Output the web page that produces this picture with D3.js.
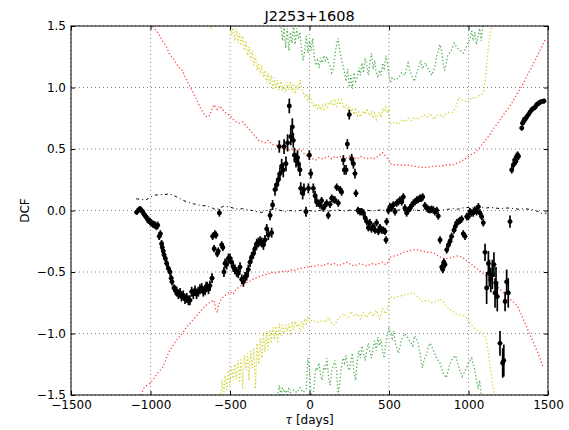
<!DOCTYPE html>
<html>
<head>
<meta charset="utf-8">
<script src="https://cdn.jsdelivr.net/npm/d3@7"></script>
<style>
  body { margin: 0; background: #fff; }
  svg { font-family: "DejaVu Sans", sans-serif; }
</style>
</head>
<body>
<div id="chart"></div>
<script>
// Chart size and margins (plot box 71..548 x 26..395)
var svgWidth = 569;
var svgHeight = 430;
var margin = { top: 26, right: 21, bottom: 35, left: 71 };
var width = svgWidth - margin.left - margin.right;
var height = svgHeight - margin.top - margin.bottom;

// tick values
var xTicks = [-1500, -1000, -500, 0, 500, 1000, 1500];
var yTicks = [-1.5, -1.0, -0.5, 0.0, 0.5, 1.0, 1.5];

// DCF points: [tau, dcf, error]
var dcfPoints = [
  [-1087,-0.015,0.02],[-1075,0.005,0.02],[-1066,0.015,0.02],[-1058,0.0,0.02],[-1049,-0.01,0.02],
  [-1041,-0.03,0.02],[-1035,-0.04,0.02],[-1027,-0.055,0.02],[-1020,-0.07,0.03],[-1012,-0.08,0.03],
  [-1003,-0.09,0.03],[-995,-0.1,0.03],[-986,-0.11,0.03],[-978,-0.115,0.03],[-970,-0.12,0.03],
  [-962,-0.13,0.03],[-955,-0.12,0.03],[-945,-0.21,0.03],[-938,-0.19,0.03],[-930,-0.27,0.03],
  [-926,-0.30,0.03],[-920,-0.33,0.03],[-915,-0.36,0.03],[-907,-0.39,0.03],[-898,-0.43,0.03],
  [-888,-0.47,0.03],[-877,-0.50,0.03],[-870,-0.55,0.03],[-865,-0.58,0.03],[-852,-0.63,0.03],
  [-843,-0.65,0.04],[-835,-0.66,0.04],[-825,-0.68,0.04],[-814,-0.67,0.04],[-805,-0.70,0.04],
  [-794,-0.69,0.04],[-783,-0.72,0.04],[-772,-0.71,0.04],[-762,-0.73,0.04],[-752,-0.73,0.04],
  [-741,-0.66,0.04],[-731,-0.68,0.04],[-720,-0.65,0.04],[-710,-0.68,0.04],[-699,-0.66,0.04],
  [-689,-0.64,0.04],[-678,-0.63,0.04],[-668,-0.66,0.04],[-657,-0.65,0.04],[-650,-0.62,0.04],
  [-643,-0.62,0.04],[-635,-0.64,0.04],[-626,-0.61,0.04],[-613,-0.55,0.04],
  [-609,-0.21,0.03],[-600,-0.31,0.03],[-595,-0.19,0.03],[-588,-0.2,0.03],[-580,-0.35,0.03],
  [-574,-0.33,0.03],[-567,-0.02,0.03],[-552,-0.28,0.03],[-545,-0.3,0.03],[-538,-0.5,0.04],
  [-531,-0.43,0.04],[-521,-0.44,0.04],[-510,-0.39,0.04],[-500,-0.39,0.04],[-490,-0.42,0.04],
  [-479,-0.46,0.04],[-469,-0.48,0.04],[-458,-0.5,0.04],[-448,-0.51,0.04],[-437,-0.46,0.04],
  [-426,-0.56,0.04],[-416,-0.58,0.04],[-405,-0.54,0.04],[-395,-0.53,0.04],[-385,-0.48,0.04],
  [-374,-0.42,0.04],[-364,-0.38,0.04],[-353,-0.35,0.04],[-343,-0.31,0.04],[-332,-0.27,0.04],
  [-322,-0.26,0.04],[-311,-0.25,0.04],[-300,-0.26,0.04],[-290,-0.28,0.04],[-280,-0.24,0.04],
  [-269,-0.15,0.04],[-259,-0.2,0.04],[-248,-0.04,0.04],[-238,-0.18,0.04],[-232,0.045,0.04],
  [-217,0.17,0.05],[-206,0.21,0.05],[-196,0.25,0.05],[-190,0.52,0.05],[-186,0.3,0.05],
  [-175,0.36,0.06],[-165,0.33,0.06],[-160,0.52,0.06],[-148,0.38,0.06],[-138,0.55,0.07],
  [-127,0.85,0.06],[-118,0.6,0.07],[-108,0.68,0.07],[-102,0.57,0.06],[-95,0.45,0.06],
  [-85,0.41,0.06],[-75,0.43,0.06],[-70,0.38,0.06],[-60,0.33,0.05],[-55,0.18,0.05],
  [-43,0.14,0.05],[-35,0.17,0.05],[-22,-0.01,0.04],[-7,0.18,0.04],[-1,0.45,0.04],
  [8,0.3,0.04],[24,0.18,0.04],[35,0.12,0.04],[45,0.07,0.04],[55,0.06,0.03],
  [66,0.045,0.03],[76,0.08,0.03],[87,0.02,0.03],[97,0.04,0.03],[108,0.06,0.03],
  [118,-0.04,0.03],[129,0.05,0.03],[140,0.1,0.03],[150,0.09,0.03],[160,0.085,0.03],
  [171,0.19,0.03],[181,0.06,0.03],[192,0.17,0.03],[202,0.15,0.03],[213,0.41,0.04],
  [219,0.33,0.04],[230,0.33,0.04],[238,0.54,0.04],[250,0.78,0.04],[265,0.42,0.04],
  [276,0.38,0.04],[286,0.3,0.04],[292,0.14,0.03],[305,0.0,0.03],[318,-0.01,0.03],
  [329,-0.01,0.03],[339,-0.02,0.03],[350,-0.06,0.03],[360,-0.09,0.03],[370,-0.14,0.03],
  [380,-0.1,0.03],[390,-0.15,0.03],[401,-0.13,0.03],[412,-0.16,0.03],[422,-0.1,0.03],
  [433,-0.17,0.03],[443,-0.14,0.03],[454,-0.16,0.03],[464,-0.16,0.03],[475,-0.17,0.03],
  [481,-0.24,0.03],[485,-0.09,0.03],[496,0.0,0.03],[506,0.03,0.03],[517,0.02,0.03],
  [527,0.045,0.03],[538,-0.01,0.03],[548,0.06,0.03],[559,0.07,0.03],[569,0.085,0.03],
  [580,0.07,0.03],[590,0.11,0.03],[600,0.02,0.03],[611,-0.02,0.03],[621,0.0,0.03],
  [632,0.02,0.03],[642,0.04,0.03],[653,0.06,0.03],[663,0.07,0.03],[674,0.085,0.03],
  [684,0.09,0.03],[695,0.1,0.03],[705,0.1,0.03],[712,0.11,0.03],[726,0.04,0.03],
  [737,0.02,0.03],[747,0.01,0.03],[758,0.005,0.03],[768,0.01,0.03],[779,0.005,0.03],
  [789,-0.01,0.03],[800,0.0,0.03],[810,-0.045,0.03],[821,-0.24,0.03],[832,-0.46,0.03],
  [838,-0.48,0.03],[845,-0.42,0.03],[852,-0.44,0.03],[863,-0.32,0.03],[874,-0.28,0.03],
  [884,-0.25,0.03],[894,-0.21,0.03],[909,-0.16,0.03],[917,-0.13,0.03],[926,-0.1,0.03],
  [937,-0.09,0.03],[947,-0.08,0.03],[957,-0.07,0.03],[967,-0.19,0.03],[978,-0.21,0.03],
  [989,-0.05,0.03],[999,-0.05,0.03],[1009,-0.01,0.03],[1020,-0.02,0.03],[1030,-0.02,0.03],
  [1041,0.005,0.03],[1051,-0.01,0.03],[1062,0.03,0.03],[1072,-0.02,0.03],[1083,-0.05,0.03],
  [1093,-0.1,0.03],[1104,-0.34,0.07],[1114,-0.63,0.13],[1125,-0.43,0.1],[1131,-0.51,0.11],
  [1140,-0.565,0.1],[1150,-0.52,0.12],[1160,-0.44,0.1],[1167,-0.67,0.12],[1173,-0.59,0.13],
  [1181,-0.70,0.12],[1198,-1.08,0.1],[1215,-1.24,0.12],[1222,-1.22,0.13],[1230,-0.74,0.08],
  [1240,-0.58,0.1],[1250,-0.67,0.12],[1261,-0.09,0.05],
  [1272,0.33,0.03],[1282,0.37,0.03],[1290,0.41,0.03],[1298,0.4,0.03],[1303,0.44,0.03],
  [1309,0.45,0.03],[1314,0.44,0.03],[1335,0.67,0.02],[1340,0.71,0.02],[1345,0.72,0.02],
  [1351,0.74,0.02],[1356,0.74,0.02],[1366,0.76,0.02],[1377,0.78,0.02],[1387,0.8,0.02],
  [1398,0.82,0.02],[1408,0.83,0.02],[1419,0.84,0.02],[1429,0.86,0.02],[1440,0.87,0.02],
  [1450,0.88,0.02],[1461,0.885,0.02],[1475,0.89,0.02]
];

// mean of simulated DCFs (dash-dot, near zero)
var simMean = [
  [-1090,0.095],[-1060,0.09],[-1030,0.085],[-1000,0.11],[-970,0.125],[-940,0.13],[-910,0.13],
  [-880,0.135],[-850,0.12],[-820,0.1],[-790,0.08],[-760,0.065],[-730,0.055],[-700,0.045],
  [-670,0.04],[-640,0.035],[-610,0.02],[-590,0.005],[-570,0.015],[-540,0.035],[-510,0.03],
  [-480,0.02],[-450,0.01],[-420,0.015],[-390,0.005],[-360,0.0],[-330,-0.01],[-300,-0.015],
  [-270,0.0],[-240,0.01],[-210,0.015],[-180,0.0],[-150,-0.01],[-120,0.0],[-90,-0.005],
  [-60,0.0],[-30,0.005],[0,0.0],[30,-0.01],[60,0.0],[90,0.005],[120,-0.005],[150,0.0],
  [180,0.005],[210,-0.005],[240,0.0],[270,0.005],[300,-0.005],[330,0.0],[360,0.005],
  [390,-0.005],[420,0.0],[450,0.005],[480,0.0],[510,-0.005],[540,0.0],[570,0.005],[600,0.0],
  [630,-0.005],[660,0.005],[690,0.0],[720,0.005],[750,0.0],[780,0.005],[810,0.0],[840,0.005],
  [870,0.01],[900,0.015],[930,0.01],[960,0.02],[990,0.025],[1020,0.02],[1050,0.03],
  [1080,0.025],[1110,0.02],[1140,0.025],[1170,0.02],[1200,0.015],[1230,0.02],[1260,0.02],
  [1290,0.015],[1320,0.01],[1350,0.015],[1380,0.01],[1410,0.005],[1440,-0.01],[1470,-0.03],
  [1490,-0.02]
];

// 1 sigma significance levels (red)
var redUpper = [
  [-1000,1.52],[-975,1.48],[-950,1.44],[-925,1.38],[-900,1.33],[-880,1.27],[-860,1.24],
  [-840,1.2],[-820,1.16],[-800,1.14],[-780,1.08],[-760,1.03],[-740,0.98],[-720,0.93],
  [-700,0.87],[-680,0.82],[-660,0.78],[-645,0.76],[-630,0.77],[-615,0.82],[-600,0.86],
  [-590,0.84],[-580,0.82],[-565,0.85],[-550,0.83],[-535,0.8],[-520,0.79],[-500,0.77],
  [-480,0.74],[-460,0.72],[-440,0.71],[-420,0.72],[-400,0.69],[-380,0.66],[-360,0.63],
  [-340,0.6],[-320,0.57],[-300,0.56],[-280,0.55],[-260,0.57],[-240,0.54],[-220,0.53],
  [-200,0.53],[-180,0.51],[-160,0.5],[-140,0.5],[-120,0.49],[-100,0.5],[-80,0.49],[-60,0.5],
  [-40,0.47],[-20,0.45],[0,0.43],[20,0.42],[40,0.41],[60,0.43],[80,0.42],[100,0.43],
  [120,0.44],[140,0.42],[160,0.44],[180,0.43],[200,0.44],[220,0.42],[240,0.43],[260,0.45],
  [280,0.43],[300,0.42],[320,0.44],[340,0.43],[360,0.42],[380,0.43],[400,0.42],[420,0.43],
  [440,0.45],[460,0.47],[480,0.44],[500,0.41],[510,0.38],[540,0.37],[580,0.37],[620,0.37],
  [660,0.36],[700,0.35],[740,0.35],[780,0.36],[820,0.36],[860,0.37],[900,0.37],[940,0.39],
  [980,0.42],[1010,0.45],[1040,0.47],[1070,0.51],[1100,0.56],[1130,0.61],[1160,0.67],
  [1190,0.72],[1220,0.78],[1250,0.83],[1280,0.89],[1310,0.96],[1340,1.02],[1370,1.1],
  [1400,1.17],[1430,1.25],[1460,1.33],[1485,1.4]
];
var redLower = [
  [-1060,-1.5],[-1040,-1.44],[-1020,-1.42],[-1000,-1.40],[-980,-1.37],[-960,-1.33],
  [-940,-1.30],[-920,-1.27],[-900,-1.2],[-880,-1.14],[-860,-1.1],[-840,-1.06],[-820,-1.03],
  [-800,-1.0],[-780,-0.96],[-760,-0.93],[-740,-0.9],[-720,-0.87],[-700,-0.84],[-680,-0.81],
  [-660,-0.78],[-640,-0.76],[-620,-0.74],[-600,-0.73],[-590,-0.8],[-580,-0.83],[-570,-0.76],
  [-555,-0.72],[-540,-0.7],[-520,-0.68],[-500,-0.66],[-480,-0.68],[-460,-0.64],[-440,-0.62],
  [-420,-0.6],[-400,-0.59],[-380,-0.58],[-360,-0.56],[-340,-0.55],[-320,-0.54],[-300,-0.53],
  [-280,-0.52],[-260,-0.52],[-240,-0.5],[-220,-0.51],[-200,-0.5],[-180,-0.5],[-160,-0.49],
  [-140,-0.5],[-120,-0.48],[-100,-0.49],[-80,-0.48],[-60,-0.47],[-40,-0.47],[-20,-0.46],
  [0,-0.46],[20,-0.45],[40,-0.45],[60,-0.44],[80,-0.45],[100,-0.44],[120,-0.43],[140,-0.44],
  [160,-0.43],[180,-0.45],[200,-0.44],[220,-0.43],[240,-0.42],[260,-0.44],[280,-0.45],
  [300,-0.44],[320,-0.43],[340,-0.44],[360,-0.45],[380,-0.44],[400,-0.43],[420,-0.44],
  [440,-0.43],[460,-0.42],[480,-0.44],[495,-0.42],[505,-0.38],[530,-0.37],[560,-0.36],
  [590,-0.34],[620,-0.33],[650,-0.32],[680,-0.32],[710,-0.33],[740,-0.34],[770,-0.34],
  [790,-0.35],[810,-0.37],[840,-0.39],[870,-0.39],[900,-0.38],[930,-0.37],[960,-0.38],
  [990,-0.41],[1010,-0.43],[1040,-0.46],[1070,-0.49],[1100,-0.52],[1130,-0.55],[1160,-0.59],
  [1190,-0.63],[1220,-0.67],[1250,-0.71],[1280,-0.74],[1310,-0.78],[1330,-0.84],[1350,-0.9],
  [1370,-0.96],[1390,-1.02],[1410,-1.08],[1430,-1.14],[1450,-1.2],[1470,-1.28]
];

// 2 sigma levels (yellow)
var yellowUpper = [
  [-630,1.52],[-620,1.49],[-610,1.55],[-520,1.6],[-510,1.49],[-500,1.55],[-490,1.42],
  [-480,1.5],[-470,1.38],[-460,1.48],[-450,1.36],[-440,1.44],[-430,1.34],[-420,1.42],
  [-410,1.3],[-400,1.38],[-390,1.26],[-380,1.33],[-370,1.22],[-360,1.3],[-350,1.18],
  [-340,1.26],[-330,1.14],[-320,1.2],[-310,1.1],[-300,1.18],[-290,1.08],[-280,1.14],
  [-270,1.04],[-260,1.12],[-250,1.02],[-240,1.1],[-230,0.98],[-220,1.08],[-210,1.0],
  [-200,1.06],[-190,0.98],[-180,1.05],[-170,0.97],[-160,1.02],[-150,0.96],[-140,1.04],
  [-130,0.98],[-120,1.05],[-110,0.96],[-100,1.03],[-90,0.95],[-80,1.02],[-70,0.98],
  [-60,1.06],[-50,1.0],[-40,0.96],[-30,0.92],[-20,0.95],[-10,0.9],[0,0.94],[10,0.9],
  [20,0.86],[30,0.84],[40,0.87],[50,0.83],[60,0.86],[70,0.82],[80,0.85],[90,0.81],
  [100,0.86],[110,0.84],[120,0.88],[130,0.86],[140,0.9],[150,0.85],[160,0.89],[170,0.84],
  [180,0.9],[190,0.86],[200,0.9],[210,0.85],[220,0.83],[230,0.86],[240,0.82],[250,0.84],
  [260,0.8],[270,0.83],[280,0.78],[290,0.82],[300,0.77],[310,0.8],[320,0.76],[330,0.79],
  [340,0.81],[350,0.78],[360,0.83],[370,0.8],[380,0.77],[390,0.8],[400,0.75],[410,0.79],
  [420,0.74],[430,0.78],[440,0.8],[450,0.76],[460,0.83],[470,0.8],[480,0.84],[490,0.79],
  [500,0.83],[505,0.7],[520,0.71],[540,0.72],[560,0.7],[580,0.74],[600,0.72],[620,0.75],
  [640,0.73],[660,0.76],[680,0.74],[700,0.76],[720,0.78],[740,0.76],[760,0.79],[780,0.74],
  [800,0.77],[820,0.78],[840,0.76],[860,0.79],[880,0.8],[900,0.8],[920,0.84],[940,0.92],
  [960,0.9],[980,0.89],[1000,0.88],[1020,0.92],[1040,0.91],[1060,0.93],[1080,0.94],
  [1095,0.96],[1105,1.05],[1115,1.2],[1125,1.33],[1135,1.42],[1145,1.5],[1155,1.55]
];
var yellowLower = [
  [-560,-1.55],[-550,-1.38],[-540,-1.5],[-530,-1.34],[-520,-1.46],[-510,-1.3],[-500,-1.42],
  [-490,-1.27],[-480,-1.38],[-470,-1.25],[-460,-1.37],[-450,-1.22],[-440,-1.4],[-430,-1.2],
  [-420,-1.45],[-410,-1.18],[-400,-1.3],[-390,-1.16],[-380,-1.38],[-370,-1.14],[-360,-1.28],
  [-350,-1.12],[-340,-1.45],[-330,-1.08],[-320,-1.25],[-310,-1.04],[-300,-1.2],[-290,-1.0],
  [-280,-1.15],[-270,-0.98],[-260,-1.13],[-250,-0.97],[-240,-1.08],[-230,-0.95],[-220,-1.05],
  [-210,-0.94],[-200,-1.08],[-190,-0.92],[-180,-1.02],[-170,-0.93],[-160,-1.0],[-150,-0.93],
  [-140,-0.98],[-130,-0.92],[-120,-1.02],[-110,-0.9],[-100,-0.97],[-90,-0.9],[-80,-0.95],
  [-70,-0.92],[-60,-0.99],[-50,-0.9],[-40,-0.95],[-30,-0.88],[-20,-0.92],[-10,-0.86],
  [0,-0.89],[20,-0.9],[40,-0.9],[60,-0.91],[80,-0.89],[100,-0.91],[120,-0.87],[140,-0.92],
  [160,-0.93],[180,-0.88],[200,-0.85],[220,-0.84],[240,-0.88],[260,-0.82],[280,-0.86],
  [300,-0.84],[320,-0.88],[340,-0.83],[360,-0.87],[380,-0.82],[400,-0.86],[420,-0.81],
  [440,-0.88],[460,-0.8],[480,-0.84],[495,-0.78],[505,-0.7],[530,-0.71],[560,-0.7],
  [590,-0.69],[620,-0.68],[650,-0.67],[680,-0.7],[710,-0.74],[740,-0.73],[770,-0.75],
  [800,-0.74],[820,-0.72],[840,-0.74],[860,-0.78],[880,-0.8],[900,-0.82],[920,-0.84],
  [950,-0.85],[980,-0.86],[1000,-0.9],[1030,-0.95],[1060,-0.98],[1090,-1.0],[1110,-1.04],
  [1120,-1.12],[1130,-1.2],[1140,-1.3],[1150,-1.4],[1160,-1.47],[1170,-1.55]
];

// 3 sigma levels (green)
var greenUpper = [
  [-200,1.6],[-180,1.5],[-170,1.38],[-160,1.5],[-150,1.32],[-140,1.48],[-130,1.3],
  [-120,1.45],[-110,1.36],[-100,1.52],[-90,1.35],[-80,1.48],[-70,1.4],[-60,1.45],[-50,1.3],
  [-40,1.22],[-30,1.3],[-20,1.42],[-10,1.28],[0,1.38],[10,1.3],[20,1.4],[30,1.25],[40,1.18],
  [50,1.22],[60,1.16],[70,1.24],[80,1.2],[90,1.26],[100,1.22],[110,1.25],[120,1.2],
  [130,1.17],[140,1.12],[150,1.15],[160,1.26],[170,1.35],[180,1.4],[190,1.3],[200,1.24],
  [210,1.18],[220,1.12],[230,1.05],[240,1.15],[250,1.0],[260,1.1],[270,0.99],[280,1.12],
  [290,1.05],[300,1.08],[310,1.16],[320,1.1],[330,1.2],[340,1.12],[350,1.24],[360,1.18],
  [370,1.1],[380,1.2],[390,1.28],[400,1.15],[410,1.22],[420,1.12],[430,1.08],[440,1.14],
  [450,1.1],[460,1.2],[470,1.14],[480,1.26],[490,1.2],[500,1.1],[510,1.04],[520,1.08],
  [540,1.06],[560,1.08],[580,1.12],[600,1.1],[620,1.2],[640,1.1],[660,1.05],[670,1.1],
  [690,1.18],[700,1.22],[710,1.15],[730,1.2],[750,1.14],[770,1.1],[790,1.18],[800,1.25],
  [820,1.35],[830,1.3],[840,1.2],[850,1.14],[860,1.2],[870,1.26],[890,1.3],[910,1.36],
  [930,1.32],[950,1.3],[970,1.28],[990,1.34],[1010,1.4],[1020,1.46],[1030,1.38],[1040,1.45],
  [1050,1.35],[1060,1.42],[1070,1.48],[1080,1.38],[1090,1.5],[1100,1.6]
];
var greenLower = [
  [-210,-1.6],[-200,-1.5],[-190,-1.42],[-180,-1.5],[-170,-1.44],[-160,-1.48],[-150,-1.46],
  [-140,-1.5],[-130,-1.45],[-120,-1.48],[-100,-1.46],[-80,-1.48],[-60,-1.44],[-40,-1.48],
  [-20,-1.45],[-10,-1.2],[0,-1.3],[10,-1.5],[20,-1.55],[30,-1.4],[40,-1.28],[50,-1.3],
  [60,-1.24],[70,-1.34],[80,-1.38],[90,-1.26],[100,-1.3],[110,-1.2],[120,-1.36],[130,-1.42],
  [140,-1.3],[150,-1.26],[160,-1.22],[170,-1.3],[180,-1.5],[190,-1.4],[200,-1.28],[210,-1.2],
  [220,-1.24],[230,-1.18],[240,-1.26],[250,-1.3],[260,-1.22],[270,-1.16],[280,-1.32],
  [290,-1.38],[300,-1.22],[310,-1.14],[320,-1.2],[330,-1.1],[340,-1.16],[350,-1.22],
  [360,-1.14],[370,-1.08],[380,-1.15],[390,-1.2],[400,-1.12],[410,-1.06],[420,-1.14],
  [430,-1.03],[440,-1.1],[450,-1.05],[460,-1.15],[470,-1.2],[480,-1.08],[490,-1.0],
  [500,-0.96],[510,-1.0],[520,-1.04],[530,-0.98],[540,-1.08],[550,-1.12],[560,-1.16],
  [570,-1.1],[580,-1.05],[600,-1.0],[620,-1.04],[640,-1.08],[650,-1.1],[660,-1.02],
  [680,-1.06],[700,-1.2],[710,-1.28],[720,-1.22],[740,-1.15],[750,-1.1],[760,-1.08],
  [780,-1.14],[800,-1.2],[820,-1.24],[840,-1.32],[860,-1.36],[880,-1.26],[900,-1.2],
  [920,-1.18],[940,-1.28],[960,-1.35],[980,-1.3],[1000,-1.24],[1020,-1.2],[1040,-1.3],
  [1060,-1.45],[1070,-1.38],[1080,-1.5],[1090,-1.6]
];

var svg = d3.select("#chart")
  .append("svg")
  .attr("width", svgWidth)
  .attr("height", svgHeight);

var chartGroup = svg.append("g")
  .attr("transform", `translate(${margin.left}, ${margin.top})`);

var xScale = d3.scaleLinear().domain([-1500, 1500]).range([0, width]);
var yScale = d3.scaleLinear().domain([-1.5, 1.5]).range([height, 0]);

chartGroup.append("clipPath").attr("id", "plotclip")
  .append("rect").attr("width", width).attr("height", height);

// grid
chartGroup.append("g").selectAll("line").data(xTicks).enter().append("line")
  .attr("x1", d => xScale(d)).attr("x2", d => xScale(d))
  .attr("y1", 0).attr("y2", height)
  .attr("stroke", "#666").attr("stroke-width", 0.8).attr("stroke-dasharray", "1,3");
chartGroup.append("g").selectAll("line").data(yTicks).enter().append("line")
  .attr("y1", d => yScale(d)).attr("y2", d => yScale(d))
  .attr("x1", 0).attr("x2", width)
  .attr("stroke", "#666").attr("stroke-width", 0.8).attr("stroke-dasharray", "1,3");

var plot = chartGroup.append("g").attr("clip-path", "url(#plotclip)");

var line = d3.line().x(d => xScale(d[0])).y(d => yScale(d[1]));

// significance curves, dotted
var curves = [
  { data: greenUpper, color: "#33a033" }, { data: greenLower, color: "#33a033" },
  { data: yellowUpper, color: "#cccc1a" }, { data: yellowLower, color: "#cccc1a" },
  { data: redUpper, color: "#ff2a2a" }, { data: redLower, color: "#ff2a2a" }
];
curves.forEach(function(c) {
  plot.append("path")
    .datum(c.data)
    .attr("d", line)
    .attr("fill", "none")
    .attr("stroke", c.color)
    .attr("stroke-width", 1.3)
    .attr("stroke-dasharray", "1.3,2.2")
    .attr("opacity", 0.85);
});

plot.append("path")
  .datum(simMean)
  .attr("d", line)
  .attr("fill", "none")
  .attr("stroke", "#000")
  .attr("stroke-width", 1)
  .attr("stroke-dasharray", "3,3,1,3");

// error bars
plot.append("g").selectAll("line").data(dcfPoints).enter().append("line")
  .attr("x1", d => xScale(d[0])).attr("x2", d => xScale(d[0]))
  .attr("y1", d => yScale(d[1] - d[2])).attr("y2", d => yScale(d[1] + d[2]))
  .attr("stroke", "#000").attr("stroke-width", 1.7);
plot.append("g").selectAll("line").data(dcfPoints).enter().append("line")
  .attr("x1", d => xScale(d[0] - 14)).attr("x2", d => xScale(d[0] + 14))
  .attr("y1", d => yScale(d[1])).attr("y2", d => yScale(d[1]))
  .attr("stroke", "#000").attr("stroke-width", 1.2);

plot.append("g").selectAll("circle").data(dcfPoints).enter().append("circle")
  .attr("cx", d => xScale(d[0]))
  .attr("cy", d => yScale(d[1]))
  .attr("r", 2.4)
  .attr("fill", "#000");

// frame
chartGroup.append("rect")
  .attr("width", width).attr("height", height)
  .attr("fill", "none").attr("stroke", "#000").attr("stroke-width", 1);

// axes with inward ticks (both sides)
var fmtX = d => d3.format("d")(d).replace("-", "\u2212");
var fmtY = d => d3.format(".1f")(d).replace("-", "\u2212");

var bottomAxis = d3.axisBottom(xScale).tickValues(xTicks).tickSizeInner(-4).tickSizeOuter(0)
  .tickPadding(5).tickFormat(fmtX);
var leftAxis = d3.axisLeft(yScale).tickValues(yTicks).tickSizeInner(-4).tickSizeOuter(0)
  .tickPadding(5).tickFormat(fmtY);

var xAxis = chartGroup.append("g")
  .attr("transform", `translate(0, ${height})`)
  .call(bottomAxis);
var yAxis = chartGroup.append("g").call(leftAxis);

chartGroup.append("g")
  .call(d3.axisTop(xScale).tickValues(xTicks).tickSizeInner(-4).tickSizeOuter(0).tickFormat(""));
chartGroup.append("g")
  .attr("transform", `translate(${width}, 0)`)
  .call(d3.axisRight(yScale).tickValues(yTicks).tickSizeInner(-4).tickSizeOuter(0).tickFormat(""));

chartGroup.selectAll(".domain").remove();
chartGroup.selectAll(".tick text")
  .attr("font-family", "DejaVu Sans, sans-serif")
  .attr("font-size", "12px")
  .attr("fill", "#000");
chartGroup.selectAll(".tick line").attr("stroke", "#000");

// title and labels
svg.append("text")
  .attr("x", margin.left + width / 2)
  .attr("y", 21)
  .attr("text-anchor", "middle")
  .attr("font-size", "14.5px")
  .text("J2253+1608");

var xLabel = svg.append("text")
  .attr("x", margin.left + width / 2)
  .attr("y", 424)
  .attr("text-anchor", "middle")
  .attr("font-size", "12px");
xLabel.append("tspan").attr("font-style", "italic").attr("font-family", "DejaVu Serif, serif").text("\u03c4");
xLabel.append("tspan").text(" [days]");

svg.append("text")
  .attr("transform", `translate(29, ${margin.top + height / 2}) rotate(-90)`)
  .attr("text-anchor", "middle")
  .attr("font-size", "12px")
  .text("DCF");
</script>
</body>
</html>
